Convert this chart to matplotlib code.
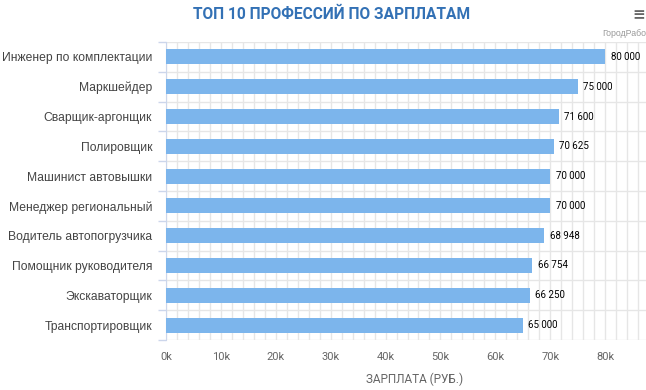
import numpy as np
import matplotlib
matplotlib.use("Agg")
import matplotlib.pyplot as plt
from matplotlib.ticker import MultipleLocator, FixedLocator, FuncFormatter

# --- Data ---
professions = [
    "Инженер по комплектации",
    "Маркшейдер",
    "Сварщик-аргонщик",
    "Полировщик",
    "Машинист автовышки",
    "Менеджер региональный",
    "Водитель автопогрузчика",
    "Помощник руководителя",
    "Экскаваторщик",
    "Транспортировщик",
]
salaries = [80000, 75000, 71600, 70625, 70000, 70000, 68948, 66754, 66250, 65000]
x_ticks = [0, 10000, 20000, 30000, 40000, 50000, 60000, 70000, 80000, 90000]

W, H = 646, 390
fig = plt.figure(figsize=(W / 100, H / 100), dpi=100)
fig.patch.set_facecolor("white")

# axes runs off the right edge like the original widget
ax = fig.add_axes([166 / W, 1 - 340 / H, 494 / W, 298 / H])

y = np.arange(len(professions))
ax.barh(y, salaries, height=0.5, color="#7cb5ec", zorder=3)

ax.set_xlim(0, 90000)
ax.set_ylim(len(professions) - 0.5, -0.5)

# value labels
for yi, v in zip(y, salaries):
    ax.text(v + 1000, yi, f"{v:,}".replace(",", " "), va="center", ha="left",
            fontsize=7, color="#000000", family="Roboto", zorder=4)

# grid
ax.xaxis.set_major_locator(FixedLocator(x_ticks))
ax.xaxis.set_minor_locator(MultipleLocator(2000))
ax.xaxis.set_major_formatter(FuncFormatter(lambda v, p: f"{int(v / 1000)}k"))
ax.grid(True, axis="x", which="both", color="#e6e6e6", linewidth=1, zorder=0)

ax.set_yticks(y)
ax.set_yticklabels(professions)
ax.yaxis.set_minor_locator(FixedLocator(np.arange(-0.5, len(professions), 1.0)))
ax.grid(True, axis="y", which="minor", color="#e6e6e6", linewidth=1, zorder=0)

ax.tick_params(axis="y", which="major", length=0, pad=10, labelsize=8.7,
               labelcolor="#444444")
ax.tick_params(axis="y", which="minor", length=6, color="#ccd6eb", width=1)
ax.tick_params(axis="x", which="both", length=0, pad=9, labelsize=8,
               labelcolor="#666666")
for lbl in ax.get_yticklabels():
    lbl.set_family("Liberation Sans")
for lbl in ax.get_xticklabels():
    lbl.set_family("Roboto")

for s in ["top", "right", "bottom"]:
    ax.spines[s].set_visible(False)
ax.spines["left"].set_color("#ccd6eb")

ax.set_xlabel("ЗАРПЛАТА (РУБ.)", fontsize=8.5, color="#666666",
              family="Roboto", labelpad=5)
ax.xaxis.set_label_coords(249 / 494, -33 / 298)

fig.text(332 / W, 1 - 14 / H, "ТОП 10 ПРОФЕССИЙ ПО ЗАРПЛАТАМ", ha="center",
         va="center", fontsize=11.2, fontweight="bold", color="#3371b5",
         family="Roboto")
fig.text(602 / W, 1 - 33 / H, "ГородРабота.ру", ha="left", va="center",
         fontsize=6.3, color="#999999", family="Liberation Sans")
fig.text(639 / W, 1 - 15 / H, "≡", ha="center", va="center", fontsize=11,
         color="#666666", fontweight="bold")

fig.savefig("out.png", dpi=100, facecolor="white")
